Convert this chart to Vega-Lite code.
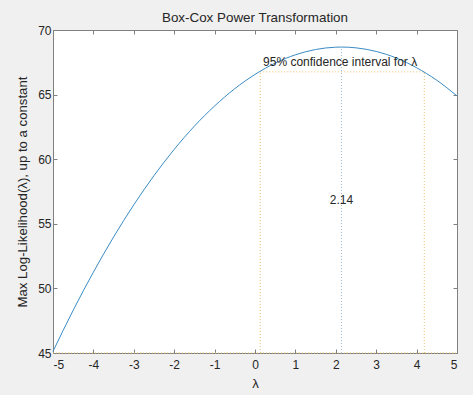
{
  "$schema": "https://vega.github.io/schema/vega-lite/v6.json",
  "width": 404,
  "height": 323,
  "autosize": {"type": "none"},
  "padding": {"left": 53, "top": 30, "right": 16, "bottom": 42},
  "background": "#f0f0f0",
  "config": {
    "view": {"fill": "white", "stroke": "#808080", "strokeWidth": 1},
    "font": "Liberation Sans",
    "axis": {
      "grid": false,
      "domainColor": "#808080",
      "tickColor": "#808080",
      "tickSize": -4,
      "labelColor": "#262626",
      "labelFontSize": 12,
      "labelFont": "Liberation Sans",
      "labelExpr": "replace(datum.label, '−', '-')",
      "titleFont": "Liberation Sans",
      "titleColor": "#262626",
      "titleFontSize": 13.2,
      "titleFontWeight": "normal"
    },
    "title": {"font": "Liberation Sans", "fontSize": 13.4, "fontWeight": "normal", "color": "#262626"}
  },
  "title": {"text": "Box-Cox Power Transformation", "offset": 0},
  "datasets": {
    "curve": [
      {"lambda": -5.0, "llf": 45.13},
      {"lambda": -4.5, "llf": 48.31},
      {"lambda": -4.0, "llf": 51.26},
      {"lambda": -3.5, "llf": 53.98},
      {"lambda": -3.0, "llf": 56.47},
      {"lambda": -2.5, "llf": 58.73},
      {"lambda": -2.0, "llf": 60.76},
      {"lambda": -1.5, "llf": 62.56},
      {"lambda": -1.0, "llf": 64.12},
      {"lambda": -0.5, "llf": 65.46},
      {"lambda": 0.0, "llf": 66.56},
      {"lambda": 0.5, "llf": 67.44},
      {"lambda": 1.0, "llf": 68.08},
      {"lambda": 1.5, "llf": 68.49},
      {"lambda": 2.0, "llf": 68.67},
      {"lambda": 2.14, "llf": 68.68},
      {"lambda": 2.5, "llf": 68.62},
      {"lambda": 3.0, "llf": 68.34},
      {"lambda": 3.5, "llf": 67.83},
      {"lambda": 4.0, "llf": 67.08},
      {"lambda": 4.5, "llf": 66.11},
      {"lambda": 5.0, "llf": 64.90}
    ],
    "ciVert": [
      {"x": 0.13, "y1": 45, "y2": 66.76},
      {"x": 4.19, "y1": 45, "y2": 66.76}
    ],
    "ciHoriz": [
      {"x1": 0.13, "x2": 4.19, "y": 66.76},
      {"x1": -5, "x2": 5, "y": 45}
    ],
    "center": [
      {"x": 2.14, "y1": 45, "y2": 68.68}
    ],
    "labels": [
      {"x": 0.2, "y": 67.5, "label": "95% confidence interval for λ"}
    ],
    "peak": [
      {"x": 2.14, "y": 56.85, "label": "2.14"}
    ]
  },
  "layer": [
    {
      "data": {"name": "ciHoriz"},
      "mark": {"type": "rule", "color": "#e8c170", "strokeDash": [1, 2], "strokeWidth": 1},
      "encoding": {
        "x": {"field": "x1", "type": "quantitative", "scale": {"domain": [-5, 5], "nice": false, "zero": false},
              "axis": {"orient": "top", "labels": false, "title": null, "domain": false, "values": [-5,-4,-3,-2,-1,0,1,2,3,4,5]}},
        "x2": {"field": "x2"},
        "y": {"field": "y", "type": "quantitative", "scale": {"domain": [45, 70], "nice": false, "zero": false},
              "axis": {"orient": "right", "labels": false, "title": null, "domain": false, "values": [45,50,55,60,65,70]}}
      }
    },
    {
      "data": {"name": "ciVert"},
      "mark": {"type": "rule", "color": "#e8c170", "strokeDash": [1, 2], "strokeWidth": 1},
      "encoding": {
        "x": {"field": "x", "type": "quantitative", "axis": null},
        "y": {"field": "y1", "type": "quantitative", "axis": null},
        "y2": {"field": "y2"}
      }
    },
    {
      "data": {"name": "center"},
      "mark": {"type": "rule", "color": "#9fb8cc", "strokeDash": [1, 2], "strokeWidth": 1},
      "encoding": {
        "x": {"field": "x", "type": "quantitative", "axis": null},
        "y": {"field": "y1", "type": "quantitative", "axis": null},
        "y2": {"field": "y2"}
      }
    },
    {
      "data": {"name": "curve"},
      "mark": {"type": "line", "color": "#3a8cc4", "strokeWidth": 1, "interpolate": "monotone"},
      "encoding": {
        "x": {"field": "lambda", "type": "quantitative",
              "axis": {"orient": "bottom", "title": "λ", "values": [-5,-4,-3,-2,-1,0,1,2,3,4,5], "labelPadding": 10, "titlePadding": 7}},
        "y": {"field": "llf", "type": "quantitative",
              "axis": {"orient": "left", "title": "Max Log-Likelihood(λ), up to a constant", "values": [45,50,55,60,65,70], "labelPadding": 6, "titlePadding": 8}}
      }
    },
    {
      "data": {"name": "labels"},
      "mark": {"type": "text", "align": "left", "baseline": "middle", "fontSize": 12, "color": "#262626", "font": "Liberation Sans"},
      "encoding": {
        "x": {"field": "x", "type": "quantitative", "axis": null},
        "y": {"field": "y", "type": "quantitative", "axis": null},
        "text": {"field": "label"}
      }
    },
    {
      "data": {"name": "peak"},
      "mark": {"type": "text", "align": "center", "baseline": "middle", "fontSize": 12, "color": "#262626", "font": "Liberation Sans"},
      "encoding": {
        "x": {"field": "x", "type": "quantitative", "axis": null},
        "y": {"field": "y", "type": "quantitative", "axis": null},
        "text": {"field": "label"}
      }
    }
  ]
}
